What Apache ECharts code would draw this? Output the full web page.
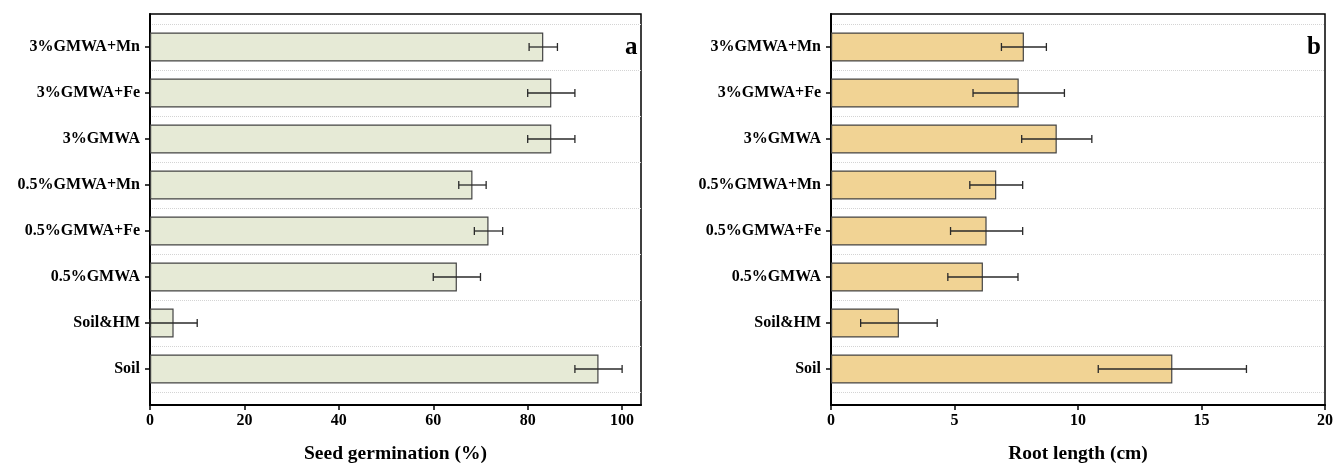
<!DOCTYPE html>
<html>
<head>
<meta charset="utf-8">
<script src="https://cdn.jsdelivr.net/npm/echarts@6/dist/echarts.min.js"></script>
<style>
  html, body { margin: 0; padding: 0; background: #fff; }
  #chart { width: 1335px; height: 465px; }
</style>
</head>
<body>
<div id="chart"></div>
<script>
// Treatments, top to bottom
const categories = ['3%GMWA+Mn', '3%GMWA+Fe', '3%GMWA', '0.5%GMWA+Mn', '0.5%GMWA+Fe', '0.5%GMWA', 'Soil&HM', 'Soil'];

// Panel a: seed germination (%) mean and error
const germination = [83.3, 85, 85, 68.3, 71.7, 65, 5, 95];
const germinationErr = [3, 5, 5, 2.9, 3, 5, 5, 5];

// Panel b: root length (cm) mean and error
const rootLength = [7.81, 7.6, 9.14, 6.69, 6.3, 6.15, 2.75, 13.82];
const rootLengthErr = [0.91, 1.85, 1.42, 1.07, 1.46, 1.42, 1.55, 3.0];

const germTicks = [0, 20, 40, 60, 80, 100];
const rootTicks = [0, 5, 10, 15, 20];

const FONT = "'Liberation Serif', 'Times New Roman', serif";

const chart = echarts.init(document.getElementById('chart'), null, { renderer: 'canvas' });

function frameAxisX(gridIndex, max, ticks, name) {
  return {
    type: 'value', gridIndex, min: 0, max,
    axisLine: { show: true, onZero: false, lineStyle: { color: '#000', width: 2 } },
    axisTick: { show: true, inside: false, length: 5, customValues: ticks, lineStyle: { color: '#000', width: 1.5 } },
    axisLabel: { customValues: ticks, margin: 8, color: '#000', fontFamily: FONT, fontWeight: 'bold', fontSize: 16 },
    splitLine: { show: false },
    name, nameLocation: 'middle', nameGap: 39,
    nameTextStyle: { color: '#000', fontFamily: FONT, fontWeight: 'bold', fontSize: 19.5 }
  };
}
function frameAxisY(gridIndex) {
  return {
    type: 'value', gridIndex, min: 0, max: 1,
    axisLine: { show: true, lineStyle: { color: '#000', width: 2 } },
    axisTick: { show: false }, axisLabel: { show: false }, splitLine: { show: false }
  };
}
function barAxisX(gridIndex, max) {
  return { type: 'value', gridIndex, min: 0, max, show: false, splitLine: { show: false } };
}
function barAxisY(gridIndex) {
  return {
    type: 'category', gridIndex, data: categories, inverse: true,
    axisLine: { show: false },
    axisTick: { show: true, alignWithLabel: true, length: 5, lineStyle: { color: '#000', width: 1.5 } },
    axisLabel: { margin: 10, color: '#000', fontFamily: FONT, fontWeight: 'bold', fontSize: 16 },
    splitLine: { show: true, lineStyle: { color: '#d4d4d4', type: 'dotted', width: 1 } }
  };
}

function errorSeries(xIdx, yIdx, values, errs) {
  const data = values.map((v, i) => [v - errs[i], v + errs[i], i]);
  return {
    type: 'custom', xAxisIndex: xIdx, yAxisIndex: yIdx, z: 5,
    encode: { x: [0, 1], y: 2 },
    data,
    renderItem(params, api) {
      const lo = api.coord([api.value(0), api.value(2)]);
      const hi = api.coord([api.value(1), api.value(2)]);
      const h = 4;
      const style = { stroke: '#2a2a2a', lineWidth: 1.3 };
      return {
        type: 'group',
        children: [
          { type: 'line', shape: { x1: lo[0], y1: lo[1], x2: hi[0], y2: hi[1] }, style },
          { type: 'line', shape: { x1: lo[0], y1: lo[1] - h, x2: lo[0], y2: lo[1] + h }, style },
          { type: 'line', shape: { x1: hi[0], y1: hi[1] - h, x2: hi[0], y2: hi[1] + h }, style }
        ]
      };
    }
  };
}

// Fixed plot rectangles; no automatic shrinking to fit labels
const gridBase = { outerBoundsMode: 'none', containLabel: false };

const option = {
  backgroundColor: '#fff',
  animation: false,
  title: [
    { text: 'a', left: 620, top: 30, textStyle: { fontFamily: FONT, fontWeight: 'bold', fontSize: 25, color: '#000' } },
    { text: 'b', left: 1302, top: 30, textStyle: { fontFamily: FONT, fontWeight: 'bold', fontSize: 25, color: '#000' } }
  ],
  grid: [
    // panel a: frame and bar area
    Object.assign({ left: 150, right: 694, top: 14, bottom: 60, show: true, borderColor: '#000', borderWidth: 1.5, backgroundColor: 'transparent' }, gridBase),
    Object.assign({ left: 150, right: 694, top: 24, bottom: 73 }, gridBase),
    // panel b: frame and bar area
    Object.assign({ left: 831, right: 10, top: 14, bottom: 60, show: true, borderColor: '#000', borderWidth: 1.5, backgroundColor: 'transparent' }, gridBase),
    Object.assign({ left: 831, right: 10, top: 24, bottom: 73 }, gridBase)
  ],
  xAxis: [
    frameAxisX(0, 104, germTicks, 'Seed germination (%)'),
    barAxisX(1, 104),
    frameAxisX(2, 20, rootTicks, 'Root length (cm)'),
    barAxisX(3, 20)
  ],
  yAxis: [
    frameAxisY(0),
    barAxisY(1),
    frameAxisY(2),
    barAxisY(3)
  ],
  series: [
    {
      type: 'bar', xAxisIndex: 1, yAxisIndex: 1, data: germination, barWidth: 29,
      itemStyle: { color: '#e6ead6', borderColor: '#444', borderWidth: 1.2 }
    },
    errorSeries(1, 1, germination, germinationErr),
    {
      type: 'bar', xAxisIndex: 3, yAxisIndex: 3, data: rootLength, barWidth: 29,
      itemStyle: { color: '#f1d394', borderColor: '#444', borderWidth: 1.2 }
    },
    errorSeries(3, 3, rootLength, rootLengthErr)
  ]
};

chart.setOption(option);
</script>
</body>
</html>
